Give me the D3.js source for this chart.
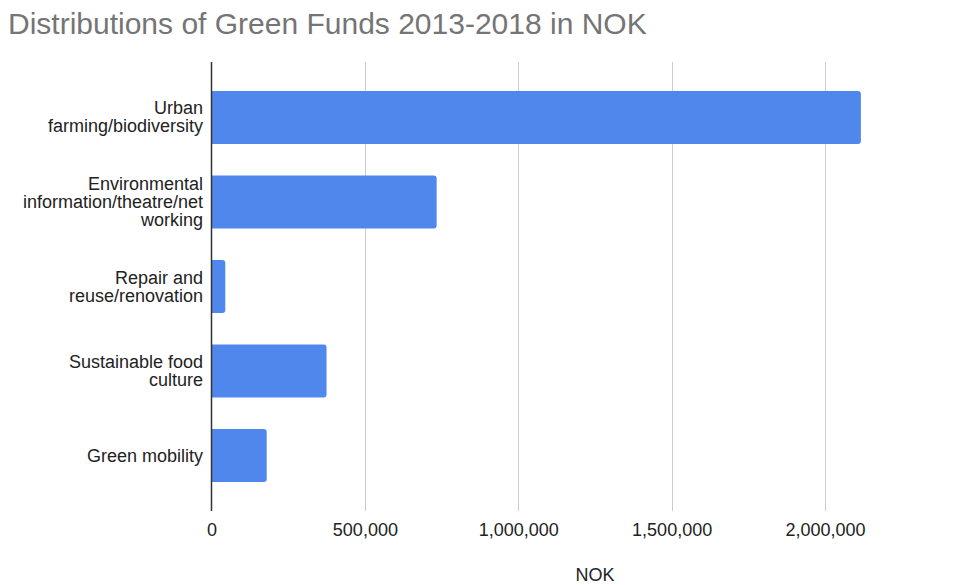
<!DOCTYPE html>
<html lang="en">
<head>
<meta charset="utf-8">
<script src="https://d3js.org/d3.v7.min.js"></script>
<style>
  body { margin: 0; background: #fff; }
  svg { font-family: "Liberation Sans", Arial, sans-serif; }
  .title { fill: #757575; font-size: 30px; }
  .tick text { fill: #222; font-size: 18px; }
  .catlabel { fill: #222; font-size: 18px; }
</style>
<title>Distributions of Green Funds</title>
</head>
<body>
<script>
// chart data
const categories = ["Urban farming/biodiversity", "Environmental information/theatre/networking",
  "Repair and reuse/renovation", "Sustainable food culture", "Green mobility"];
const labelLines = [
  ["Urban", "farming/biodiversity"],
  ["Environmental", "information/theatre/net", "working"],
  ["Repair and", "reuse/renovation"],
  ["Sustainable food", "culture"],
  ["Green mobility"]
];
const amounts = [2117000, 734000, 45000, 375000, 180000];
const xTicks = [0, 500000, 1000000, 1500000, 2000000];

const width = 968, height = 585;
const plotLeft = 211.5, plotTop = 62, plotBottom = 511;

let svg = d3.select("body").append("svg")
    .attr("width", width)
    .attr("height", height);

let x = d3.scaleLinear()
    .domain([0, 2000000])
    .range([plotLeft, 825]);

let y = d3.scaleBand()
    .domain(categories)
    .range([plotTop, plotBottom])
    .paddingInner(0.373)
    .paddingOuter(0.343);

// gridlines
svg.append("g")
  .selectAll("line")
  .data(xTicks.slice(1))
  .enter()
  .append("line")
    .attr("x1", d => Math.round(x(d)) + 0.5)
    .attr("x2", d => Math.round(x(d)) + 0.5)
    .attr("y1", plotTop)
    .attr("y2", plotBottom)
    .attr("stroke", "#cccccc")
    .attr("stroke-width", 1);

// bars, rounded on the right end only
function barPath(x0, x1, y0, h, r) {
  r = Math.min(r, (x1 - x0) / 2);
  return "M" + x0 + "," + y0 +
    "H" + (x1 - r) + "Q" + x1 + "," + y0 + " " + x1 + "," + (y0 + r) +
    "V" + (y0 + h - r) + "Q" + x1 + "," + (y0 + h) + " " + (x1 - r) + "," + (y0 + h) +
    "H" + x0 + "Z";
}

svg.append("g")
  .selectAll("path")
  .data(amounts)
  .enter()
  .append("path")
    .attr("fill", "#4f87ec")
    .attr("d", (d, i) => barPath(x(0), x(d), y(categories[i]), y.bandwidth(), 3));

// x axis labels
let xAxis = d3.axisBottom(x)
    .tickValues(xTicks)
    .tickFormat(d3.format(","))
    .tickSize(0)
    .tickPadding(12);

svg.append("g")
    .attr("transform", "translate(0," + plotBottom + ")")
    .call(xAxis)
    .call(g => g.select(".domain").remove());

// y axis line
svg.append("line")
    .attr("x1", plotLeft).attr("x2", plotLeft)
    .attr("y1", plotTop).attr("y2", plotBottom)
    .attr("stroke", "#333")
    .attr("stroke-width", 1.5);

// category labels
let lineH = 18;
let lab = svg.append("g")
  .selectAll("text")
  .data(categories)
  .enter()
  .append("text")
    .attr("class", "catlabel")
    .attr("text-anchor", "end")
    .attr("x", 203)
    .attr("y", (d, i) => y(d) + y.bandwidth() / 2 - (labelLines[i].length - 1) * lineH / 2 + 6);

lab.each(function(d, i) {
  d3.select(this).selectAll("tspan")
    .data(labelLines[i])
    .enter()
    .append("tspan")
      .attr("x", 203)
      .attr("dy", (t, j) => j === 0 ? 0 : lineH)
      .text(t => t);
});

// title and axis title
svg.append("text")
    .attr("class", "title")
    .attr("x", 8)
    .attr("y", 34)
    .text("Distributions of Green Funds 2013-2018 in NOK");

svg.append("text")
    .attr("x", 595)
    .attr("y", 581)
    .attr("text-anchor", "middle")
    .style("font-size", "18px")
    .style("fill", "#222")
    .text("NOK");
</script>
</body>
</html>
